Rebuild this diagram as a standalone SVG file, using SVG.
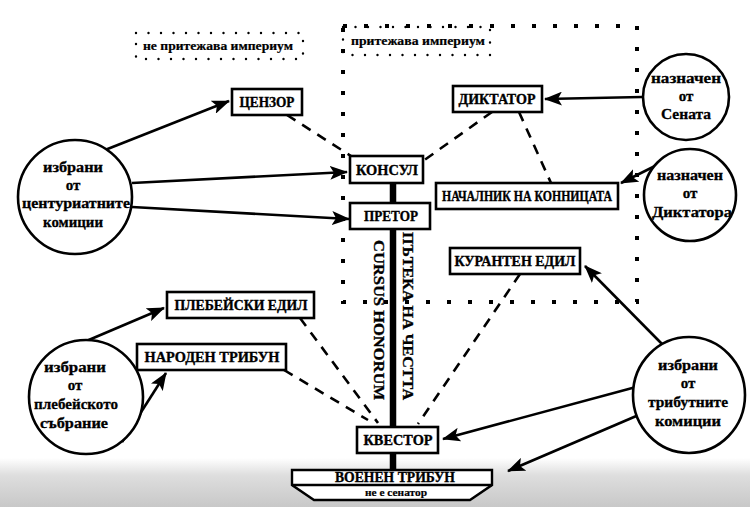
<svg xmlns="http://www.w3.org/2000/svg" width="750" height="507" viewBox="0 0 750 507">
<defs>
<marker id="ah" markerWidth="18" markerHeight="14" refX="17" refY="7" orient="auto" markerUnits="userSpaceOnUse">
<path d="M0,0 L18,7 L0,14 L4,7 Z" fill="#000"/>
</marker>
<linearGradient id="band" x1="0" y1="0" x2="0" y2="1">
<stop offset="0" stop-color="#ffffff"/>
<stop offset="0.35" stop-color="#dedede"/>
<stop offset="1" stop-color="#c8c8c8"/>
</linearGradient>
</defs>
<style>
.box{fill:#fff;stroke:#000;stroke-width:2.6}
.t{font-family:"Liberation Serif","Times New Roman",serif;font-weight:bold;font-size:14.5px;fill:#000;stroke:#000;stroke-width:0.35;text-anchor:middle}
.lbl{font-size:11.5px;stroke-width:0.2}
.small{font-size:10.5px;stroke-width:0.2}
.vert{font-size:15.5px}
.c{font-family:"Liberation Serif","Times New Roman",serif;font-weight:bold;font-size:15px;fill:#000;stroke:#000;stroke-width:0.3;text-anchor:middle}
.circ{fill:#fff;stroke:#000;stroke-width:2.6}
.arr{stroke:#000;stroke-width:2.6;fill:none;marker-end:url(#ah)}
.dash{stroke:#000;stroke-width:2.6;fill:none;stroke-dasharray:10 8}
.sq{fill:none;stroke:#000;stroke-width:4;stroke-dasharray:4 17}
.rd{fill:none;stroke:#000;stroke-width:2.4;stroke-linecap:round;stroke-dasharray:0 12.5}
</style>
<rect x="0" y="0" width="750" height="507" fill="#fff"/>
<rect x="0" y="458" width="750" height="49" fill="url(#band)"/>

<g id="imperium-zones">
<rect class="sq" x="343" y="26" width="294" height="276"/>
<rect class="rd" x="343" y="27" width="147" height="28"/>
<text class="t lbl" x="418" y="45" textLength="134" lengthAdjust="spacingAndGlyphs">притежава империум</text>
<rect class="rd" x="136" y="33" width="167" height="26"/>
<text class="t lbl" x="218" y="50" textLength="150" lengthAdjust="spacingAndGlyphs">не притежава империум</text>
</g>

<g id="connectors">
<line x1="393" y1="183" x2="393" y2="470" stroke="#000" stroke-width="6.5"/>
<line class="dash" x1="287" y1="115" x2="351" y2="156"/>
<line class="dash" x1="492" y1="112" x2="423" y2="161"/>
<line class="dash" x1="519" y1="112" x2="551" y2="183"/>
<line class="dash" x1="520" y1="274" x2="418" y2="424"/>
<line class="dash" x1="300" y1="318" x2="378" y2="423"/>
<line class="dash" x1="284" y1="370" x2="368" y2="420"/>
<line class="arr" x1="105" y1="150" x2="229" y2="101"/>
<line class="arr" x1="132" y1="183" x2="347" y2="172"/>
<line class="arr" x1="132" y1="207" x2="349" y2="219"/>
<line class="arr" x1="642" y1="97" x2="545" y2="99"/>
<line class="arr" x1="667" y1="160" x2="621" y2="183"/>
<line class="arr" x1="662" y1="344" x2="585" y2="266"/>
<line class="arr" x1="636" y1="387" x2="443" y2="439"/>
<line class="arr" x1="641" y1="414" x2="508" y2="471"/>
<line class="arr" x1="84" y1="342" x2="164" y2="308"/>
<line class="arr" x1="122" y1="442" x2="166" y2="373"/>
</g>

<g id="cursus-label">
<text class="t vert" transform="translate(374,320) rotate(90)" textLength="160" lengthAdjust="spacingAndGlyphs">CURSUS HONORUM</text>
<text class="t vert" transform="translate(403,316) rotate(90)" textLength="168" lengthAdjust="spacingAndGlyphs">ПЪТЕКА НА ЧЕСТТА</text>
</g>

<g id="cenzor"><rect class="box" x="232" y="89" width="70" height="26"/><text class="t" x="267" y="107" textLength="55" lengthAdjust="spacingAndGlyphs">ЦЕНЗОР</text></g>
<g id="diktator"><rect class="box" x="453" y="86" width="89" height="26"/><text class="t" x="497" y="104" textLength="77" lengthAdjust="spacingAndGlyphs">ДИКТАТОР</text></g>
<g id="konsul"><rect class="box" x="350" y="156" width="73" height="27"/><text class="t" x="387" y="175" textLength="62" lengthAdjust="spacingAndGlyphs">КОНСУЛ</text></g>
<g id="pretor"><rect class="box" x="350" y="203" width="80" height="26"/><text class="t" x="391" y="221" textLength="54" lengthAdjust="spacingAndGlyphs">ПРЕТОР</text></g>
<g id="nachalnik"><rect class="box" x="436" y="183" width="182" height="26"/><text class="t" x="527" y="201" textLength="170" lengthAdjust="spacingAndGlyphs">НАЧАЛНИК НА КОННИЦАТА</text></g>
<g id="kuranten"><rect class="box" x="450" y="248" width="130" height="26"/><text class="t" x="515" y="266" textLength="121" lengthAdjust="spacingAndGlyphs">КУРАНТЕН ЕДИЛ</text></g>
<g id="plebeyski"><rect class="box" x="167" y="292" width="147" height="26"/><text class="t" x="241" y="310" textLength="133" lengthAdjust="spacingAndGlyphs">ПЛЕБЕЙСКИ ЕДИЛ</text></g>
<g id="naroden"><rect class="box" x="137" y="344" width="149" height="26"/><text class="t" x="212" y="362" textLength="135" lengthAdjust="spacingAndGlyphs">НАРОДЕН ТРИБУН</text></g>
<g id="kvestor"><rect class="box" x="357" y="427" width="81" height="26"/><text class="t" x="398" y="445" textLength="69" lengthAdjust="spacingAndGlyphs">КВЕСТОР</text></g>
<g id="voenen">
<path d="M292,470 H492 V485 L470,500 H314 L292,485 Z" fill="#fff" stroke="#000" stroke-width="2.4"/>
<line x1="292" y1="485" x2="492" y2="485" stroke="#000" stroke-width="2.4"/>
<text class="t" x="395" y="482" textLength="120" lengthAdjust="spacingAndGlyphs">ВОЕНЕН ТРИБУН</text>
<text class="t small" x="396" y="496" textLength="62" lengthAdjust="spacingAndGlyphs">не е сенатор</text>
</g>

<g id="centuriatni">
<circle class="circ" cx="75" cy="197" r="57"/>
<text class="c" x="73" y="172" textLength="60" lengthAdjust="spacingAndGlyphs">избрани</text>
<text class="c" x="73" y="190">от</text>
<text class="c" x="76" y="208" textLength="108" lengthAdjust="spacingAndGlyphs">центуриатните</text>
<text class="c" x="73" y="227" textLength="60" lengthAdjust="spacingAndGlyphs">комиции</text>
</g>
<g id="plebeysko">
<circle class="circ" cx="86" cy="397" r="57"/>
<text class="c" x="75" y="372" textLength="62" lengthAdjust="spacingAndGlyphs">избрани</text>
<text class="c" x="75" y="390">от</text>
<text class="c" x="76" y="409" textLength="84" lengthAdjust="spacingAndGlyphs">плебейското</text>
<text class="c" x="74" y="428" textLength="68" lengthAdjust="spacingAndGlyphs">събрание</text>
</g>
<g id="senata">
<circle class="circ" cx="686" cy="97" r="43"/>
<text class="c" x="686" y="83" textLength="70" lengthAdjust="spacingAndGlyphs">назначен</text>
<text class="c" x="686" y="101">от</text>
<text class="c" x="686" y="119" textLength="50" lengthAdjust="spacingAndGlyphs">Сената</text>
</g>
<g id="diktatora">
<circle class="circ" cx="690" cy="195" r="46"/>
<text class="c" x="690" y="180" textLength="66" lengthAdjust="spacingAndGlyphs">назначен</text>
<text class="c" x="690" y="198">от</text>
<text class="c" x="692" y="217" textLength="80" lengthAdjust="spacingAndGlyphs">Диктатора</text>
</g>
<g id="tributni">
<ellipse class="circ" cx="689" cy="395" rx="56" ry="58"/>
<text class="c" x="688" y="370" textLength="60" lengthAdjust="spacingAndGlyphs">избрани</text>
<text class="c" x="688" y="388">от</text>
<text class="c" x="688" y="407" textLength="80" lengthAdjust="spacingAndGlyphs">трибутните</text>
<text class="c" x="688" y="426" textLength="66" lengthAdjust="spacingAndGlyphs">комиции</text>
</g>
</svg>
